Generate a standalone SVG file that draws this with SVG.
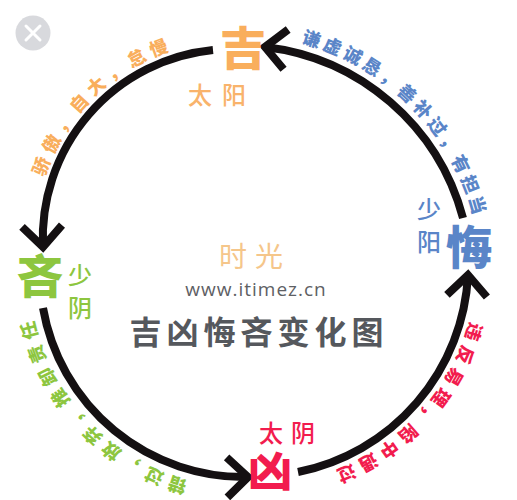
<svg xmlns="http://www.w3.org/2000/svg" width="517" height="500" viewBox="0 0 517 500">
  <style>
    .cjk { font-family: "Noto Sans CJK SC", "Noto Sans", sans-serif; }
    .big { font-size: 46px; font-weight: 900; text-anchor: middle; }
    .sub { font-size: 24px; font-weight: 500; text-anchor: middle; }
    .vert { font-size: 24px; font-weight: 500; writing-mode: vertical-rl; letter-spacing: 9px; }
    .arc { fill: none; stroke: #141012; stroke-width: 8; marker-end: url(#chev); }
    .lbl { font-size: 18px; font-weight: 900; }
    .orange { fill: #F9AE5C; }
    .blue { fill: #5A85C8; }
    .green { fill: #8DC63F; }
    .red { fill: #F21C4E; }
  </style>
  <defs>
    <marker id="chev" markerUnits="userSpaceOnUse" viewBox="-30 -30 60 60" markerWidth="60" markerHeight="60" refX="0" refY="0" orient="auto" overflow="visible">
      <path d="M -21,-20 L 0,0 L -21,20" fill="none" stroke="#141012" stroke-width="8"/>
    </marker>
    <path id="tp-orange" d="M 44.6,177.1 A 196.5,196.5 0 0 1 169.2,51.3"/>
    <path id="tp-blue" d="M 301.0,42.8 A 243,243 0 0 1 473.4,215.8"/>
    <path id="tp-red" d="M 469.9,321.3 A 221,221 0 0 1 335.4,470.8"/>
    <path id="tp-green" d="M 187.9,481.1 A 215,215 0 0 1 33.8,320.4"/>
  </defs>
  <rect width="517" height="500" fill="#FFFFFF"/>

  <g id="close-button">
    <circle cx="33" cy="33" r="17.5" fill="#D8D9DD"/>
    <path d="M 26,26 L 40,40 M 40,26 L 26,40" stroke="#FFFFFF" stroke-width="3" stroke-linecap="round"/>
  </g>

  <g id="connectors">
    <path class="arc" d="M 463,218 A 233,233 0 0 0 265,47"/>
    <path class="arc" d="M 213,50 A 189,189 0 0 0 43,247"/>
    <path class="arc" d="M 43,308 A 204,204 0 0 0 248,477"/>
    <path class="arc" d="M 298,472 A 212,212 0 0 0 468,275"/>
  </g>

  <g id="arc-labels">
    <text class="cjk lbl orange" letter-spacing="5.7"><textPath href="#tp-orange" startOffset="0">骄傲，</textPath></text>
    <text class="cjk lbl orange" letter-spacing="5.7"><textPath href="#tp-orange" startOffset="71.1">自大，</textPath></text>
    <text class="cjk lbl orange" letter-spacing="5.7"><textPath href="#tp-orange" startOffset="142.2">怠慢</textPath></text>

    <text class="cjk lbl blue" letter-spacing="3.6"><textPath href="#tp-blue" startOffset="0">谦虚诚恳，</textPath></text>
    <text class="cjk lbl blue" letter-spacing="3.6"><textPath href="#tp-blue" startOffset="108">善补过，</textPath></text>
    <text class="cjk lbl blue" letter-spacing="3.6"><textPath href="#tp-blue" startOffset="194.4">有担当</textPath></text>

    <text class="cjk lbl red" letter-spacing="5.8"><textPath href="#tp-red" startOffset="0">违反易理，</textPath></text>
    <text class="cjk lbl red" letter-spacing="5.8"><textPath href="#tp-red" startOffset="119">陷中遇过</textPath></text>

    <text class="cjk lbl green" letter-spacing="6"><textPath href="#tp-green" startOffset="0">错过，</textPath></text>
    <text class="cjk lbl green" letter-spacing="6"><textPath href="#tp-green" startOffset="72">放弃，</textPath></text>
    <text class="cjk lbl green" letter-spacing="6"><textPath href="#tp-green" startOffset="144">推卸责任</textPath></text>
  </g>

  <g id="node-ji">
    <text class="cjk big orange" x="243" y="65">吉</text>
    <text class="cjk sub" x="222" y="104" fill="#F9B36B" letter-spacing="10">太阳</text>
  </g>

  <g id="node-hui">
    <text class="cjk big blue" x="469" y="264">悔</text>
    <text class="cjk vert blue" x="429" y="197">少阳</text>
  </g>

  <g id="node-lin">
    <text class="cjk big green" x="40" y="293">吝</text>
    <text class="cjk vert green" x="80" y="263">少阴</text>
  </g>

  <g id="node-xiong">
    <text class="cjk red" x="270" y="487" font-size="44" font-weight="900" text-anchor="middle">凶</text>
    <text class="cjk sub red" x="291" y="442" letter-spacing="8">太阴</text>
  </g>

  <g id="title">
    <text class="cjk" x="255" y="267" font-size="28" text-anchor="middle" fill="#F5C68A" letter-spacing="8">时光</text>
    <text x="256" y="296" font-family="'Open Sans', 'Noto Sans', sans-serif" font-size="19" text-anchor="middle" fill="#5E6064" letter-spacing="1">www.itimez.cn</text>
    <text class="cjk" x="259" y="344" font-size="32" font-weight="700" text-anchor="middle" fill="#55585D" letter-spacing="5">吉凶悔吝变化图</text>
  </g>
</svg>
